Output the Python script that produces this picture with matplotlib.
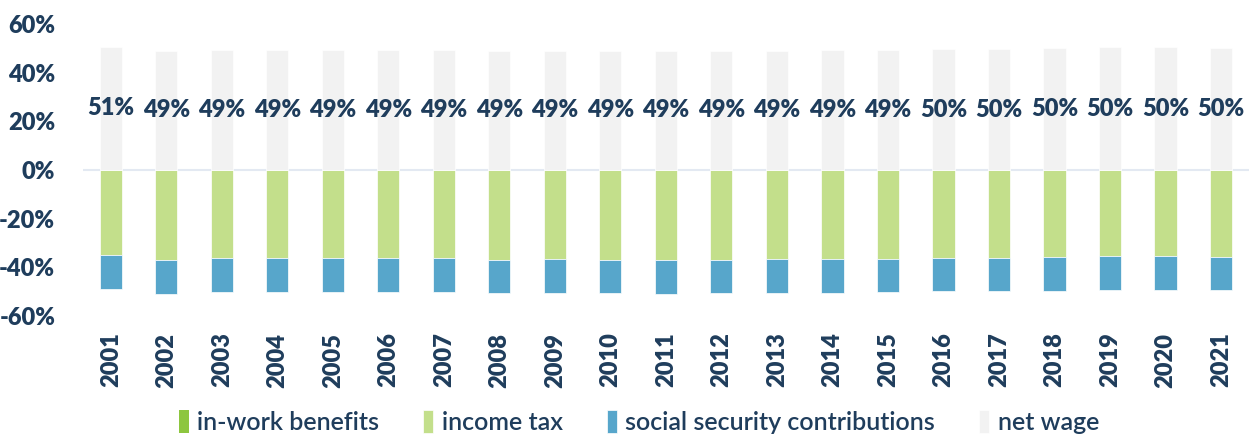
import matplotlib
matplotlib.use("Agg")
import matplotlib.pyplot as plt
import numpy as np

years = [str(y) for y in range(2001, 2022)]
net_wage = [50.7, 49.0, 49.4, 49.4, 49.3, 49.3, 49.3, 49.0, 49.1, 49.0, 49.0,
            49.0, 49.1, 49.2, 49.3, 49.7, 49.7, 50.1, 50.4, 50.4, 50.2]
income_tax = [35.1, 36.9, 36.1, 36.1, 36.3, 36.3, 36.3, 36.9, 36.7, 37.0, 37.0,
              37.0, 36.7, 36.7, 36.6, 36.1, 36.1, 35.8, 35.4, 35.4, 35.8]
social_security = [13.7, 14.0, 14.2, 14.2, 14.0, 14.0, 14.0, 13.8, 13.9, 13.7, 13.9,
                   13.7, 13.7, 13.7, 13.7, 13.8, 13.8, 13.8, 13.8, 13.8, 13.7]
in_work_benefits = [0.0] * 21

NAVY = "#1f3d5c"
C_BEN = "#8dc63f"
C_TAX = "#c3df8b"
C_SSC = "#57a6cb"
C_NET = "#f2f2f2"

plt.rcParams["font.family"] = ["Lato", "DejaVu Sans"]

fig = plt.figure(figsize=(12.5, 4.37), dpi=100)
ax = fig.add_axes([0.0664, 0.277, 0.9326, 0.668])

x = np.arange(len(years))
w = 0.4
tax = -np.array(income_tax)
ssc = -np.array(social_security)

ax.bar(x, in_work_benefits, w, color=C_BEN, label="in-work benefits")
ax.bar(x, tax, w, color=C_TAX, edgecolor="white", linewidth=0.5, label="income tax")
ax.bar(x, ssc, w, bottom=tax, color=C_SSC, edgecolor="white", linewidth=0.5,
       label="social security contributions")
net = ax.bar(x, net_wage, w, color=C_NET, edgecolor="white", linewidth=0.5, label="net wage")
ax.bar_label(net, labels=[f"{v:.0f}%" for v in net_wage], label_type="center",
             color=NAVY, fontsize=17, fontweight="heavy")

ax.axhline(0, color="#e3e9f2", linewidth=1.5, zorder=0.5)

ax.set_xlim(-0.5, 20.5)
ax.set_ylim(-60, 60)
ax.set_yticks(range(-60, 61, 20))
ax.set_yticklabels([f"{v}%" for v in range(-60, 61, 20)])
ax.set_xticks(x)
ax.set_xticklabels(years, rotation=90)
ax.tick_params(axis="both", length=0, labelsize=17, labelcolor=NAVY)
ax.tick_params(axis="y", pad=20)
ax.tick_params(axis="x", pad=12)
for lbl in ax.get_xticklabels() + ax.get_yticklabels():
    lbl.set_fontweight("heavy")
for s in ax.spines.values():
    s.set_visible(False)

leg = fig.legend(loc="lower center", bbox_to_anchor=(0.511, -0.045), ncol=4, frameon=False,
                 fontsize=18, handlelength=0.4, handleheight=1.0, handletextpad=0.35,
                 columnspacing=1.75, labelcolor=NAVY)
for t in leg.get_texts():
    t.set_fontweight("semibold")

fig.savefig("out.png", dpi=100)
